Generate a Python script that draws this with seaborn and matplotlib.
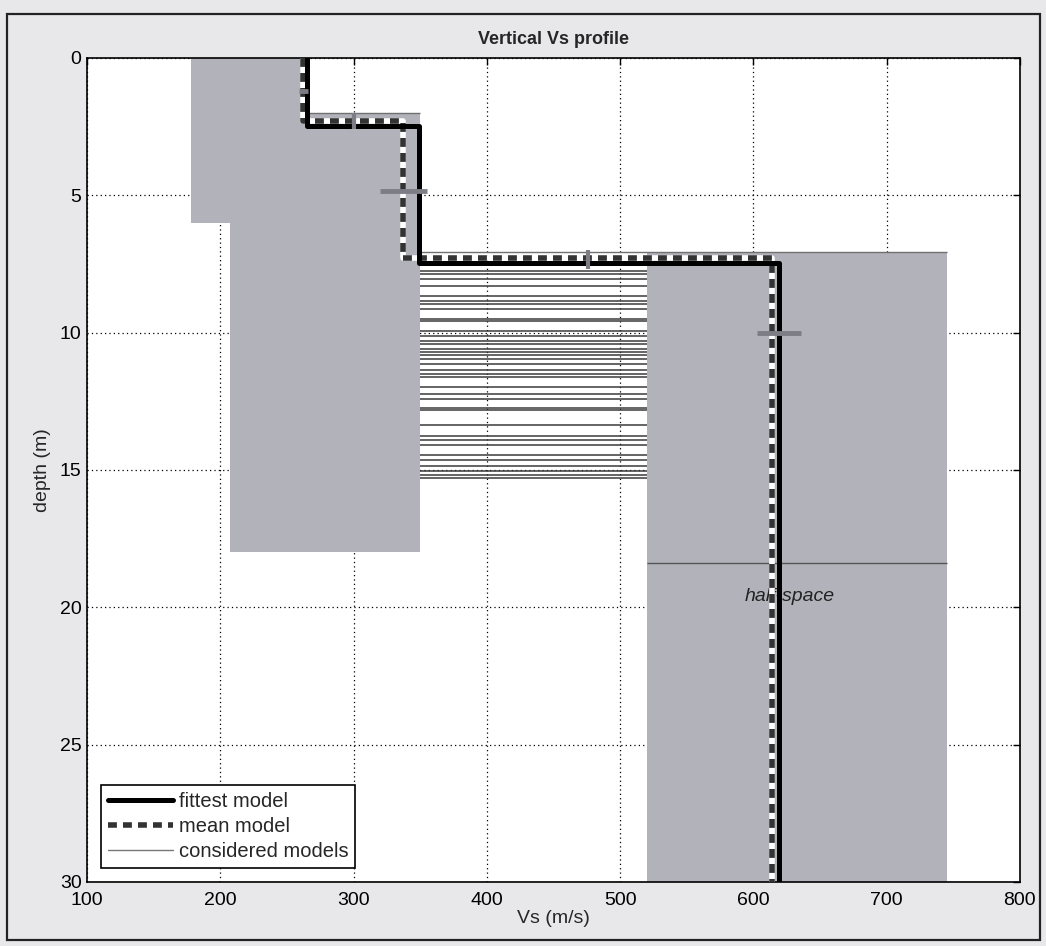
import numpy as np
import pandas as pd
import matplotlib
matplotlib.use("Agg")
import matplotlib.pyplot as plt
import seaborn as sns
from matplotlib.patches import Rectangle
from matplotlib.lines import Line2D

# ---------------- data ----------------
# fittest model: shear-wave velocity per layer and depth of each layer top
fittest_vs = [265, 349, 619]
fittest_tops = [0.0, 2.46, 7.45]
# mean model
mean_vs = [262, 337, 614]
mean_tops = [0.0, 2.30, 7.30]
max_depth = 30.0

# envelopes of the considered models per layer (Vs range, depth range)
env_vs_min = [178, 207, 520]
env_vs_max = [263, 350, 745]
env_top = [0.0, 2.0, 7.05]
env_bottom = [6.0, 18.0, 30.0]

# interface depths (layer 2 / half-space) of the considered models
interface_depths = [7.76, 7.88, 8.06, 8.30, 8.66, 8.84, 8.96, 9.14, 9.50, 9.57,
                    9.93, 10.11, 10.29, 10.41, 10.59, 10.71, 10.83, 10.95, 11.13,
                    11.37, 11.50, 11.62, 11.97, 12.22, 12.40, 12.76, 12.82, 13.36,
                    13.78, 13.90, 14.08, 14.45, 14.63, 14.87, 15.05, 15.20, 15.30]
halfspace_line_depth = 18.4
halfspace_label = "half-space"
halfspace_label_pos = (627, 19.6)

# uncertainty bars of the mean model
vs_bar_depth = [1.2, 4.85, 10.0]
vs_bar_lo = [259, 320, 603]
vs_bar_hi = [266, 355, 636]
depth_bar_vs = [300, 476]
depth_bar_lo = [2.0, 7.0]
depth_bar_hi = [2.6, 7.7]

x_ticks = [100, 200, 300, 400, 500, 600, 700, 800]
y_ticks = [0, 5, 10, 15, 20, 25, 30]


def step_profile(vs, tops, bottom):
    xs, ys = [], []
    edges = list(tops) + [bottom]
    for i, v in enumerate(vs):
        xs += [v, v]
        ys += [edges[i], edges[i + 1]]
    return pd.DataFrame({"vs": xs, "depth": ys})


fit_df = step_profile(fittest_vs, fittest_tops, max_depth)
mean_df = step_profile(mean_vs, mean_tops, max_depth)

# ---------------- style ----------------
sns.set_theme(style="white")
plt.rcParams["font.family"] = ["Liberation Sans", "DejaVu Sans"]
plt.rcParams["xtick.direction"] = "in"
plt.rcParams["ytick.direction"] = "in"

fig = plt.figure(figsize=(10.46, 9.46), dpi=100, facecolor="#e8e8eb")
ax = fig.add_axes([0.0832, 0.0677, 0.8918, 0.871])
ax.set_facecolor("white")

# envelopes of considered models
gray = "#b2b2ba"
for vmin, vmax, t, b in zip(env_vs_min, env_vs_max, env_top, env_bottom):
    ax.fill_betweenx([t, b], vmin, vmax, color=gray, lw=0, zorder=2)

# interface lines of considered models
ax.hlines(interface_depths, env_vs_max[1], env_vs_min[2], color="#3a3a3a",
          lw=1.1, zorder=3)
ax.hlines([env_top[1]], env_vs_max[0], env_vs_max[1], color="#707070", lw=1.0, zorder=3)
ax.hlines([env_top[2]], env_vs_max[1], env_vs_max[2], color="#707070", lw=1.0, zorder=3)
ax.hlines([halfspace_line_depth], env_vs_min[2], env_vs_max[2], color="#555555",
          lw=1.0, zorder=3)

ax.text(halfspace_label_pos[0], halfspace_label_pos[1], halfspace_label,
        fontsize=14, style="italic", ha="center", va="center", color="#222222",
        zorder=4)

# mean model: white underlay + dark dashes
sns.lineplot(data=mean_df, x="vs", y="depth", sort=False, estimator=None,
             color="white", lw=4.0, ax=ax, zorder=5)
sns.lineplot(data=mean_df, x="vs", y="depth", sort=False, estimator=None,
             color="#333333", lw=4.0, ax=ax, zorder=6, dashes=False)
ax.lines[-1].set_dashes([1.6, 1.1])

# fittest model
sns.lineplot(data=fit_df, x="vs", y="depth", sort=False, estimator=None,
             color="black", lw=3.6, ax=ax, zorder=7)

# uncertainty bars
ax.hlines(vs_bar_depth, vs_bar_lo, vs_bar_hi, color="#7d7d85", lw=3.5, zorder=8)
ax.vlines(depth_bar_vs, depth_bar_lo, depth_bar_hi, color="#7d7d85", lw=3.0, zorder=8)

# axes
ax.set_xlim(x_ticks[0], x_ticks[-1])
ax.set_ylim(max_depth, 0)
ax.set_xticks(x_ticks)
ax.set_yticks(y_ticks)
ax.tick_params(labelsize=14, length=5, width=1, colors="black",
               top=True, right=True, pad=4)
ax.tick_params(axis="x", pad=7)
ax.grid(True, color="black", lw=0.9, linestyle=(0, (1, 2.5)), zorder=0)
ax.set_axisbelow(True)
for s in ax.spines.values():
    s.set_color("black")
    s.set_linewidth(1.2)

ax.set_title("Vertical Vs profile", fontsize=13, fontweight="bold",
             family=["Liberation Sans Narrow", "Liberation Sans", "DejaVu Sans"],
             pad=10)
ax.set_xlabel("Vs (m/s)", fontsize=14, labelpad=1)
ax.set_ylabel("depth (m)", fontsize=14, labelpad=6)

handles = [
    Line2D([], [], color="black", lw=3.6),
    Line2D([], [], color="#333333", lw=4.0, dashes=[1.6, 1.1]),
    Line2D([], [], color="#777777", lw=1.0),
]
leg = ax.legend(handles, ["fittest model", "mean model", "considered models"],
                loc="lower left", fontsize=14.5, frameon=True, fancybox=False,
                framealpha=1, edgecolor="black", handlelength=3.2,
                handletextpad=0.3, borderpad=0.35, labelspacing=0.3,
                borderaxespad=0.7)
leg.get_frame().set_linewidth(1.2)
leg.set_zorder(20)

# scanned page border
fig.patches.append(Rectangle((0.0067, 0.0063), 0.9876, 0.979, transform=fig.transFigure,
                             fill=False, edgecolor="#222222", lw=1.6))

fig.savefig("out.png", dpi=100, facecolor=fig.get_facecolor())
